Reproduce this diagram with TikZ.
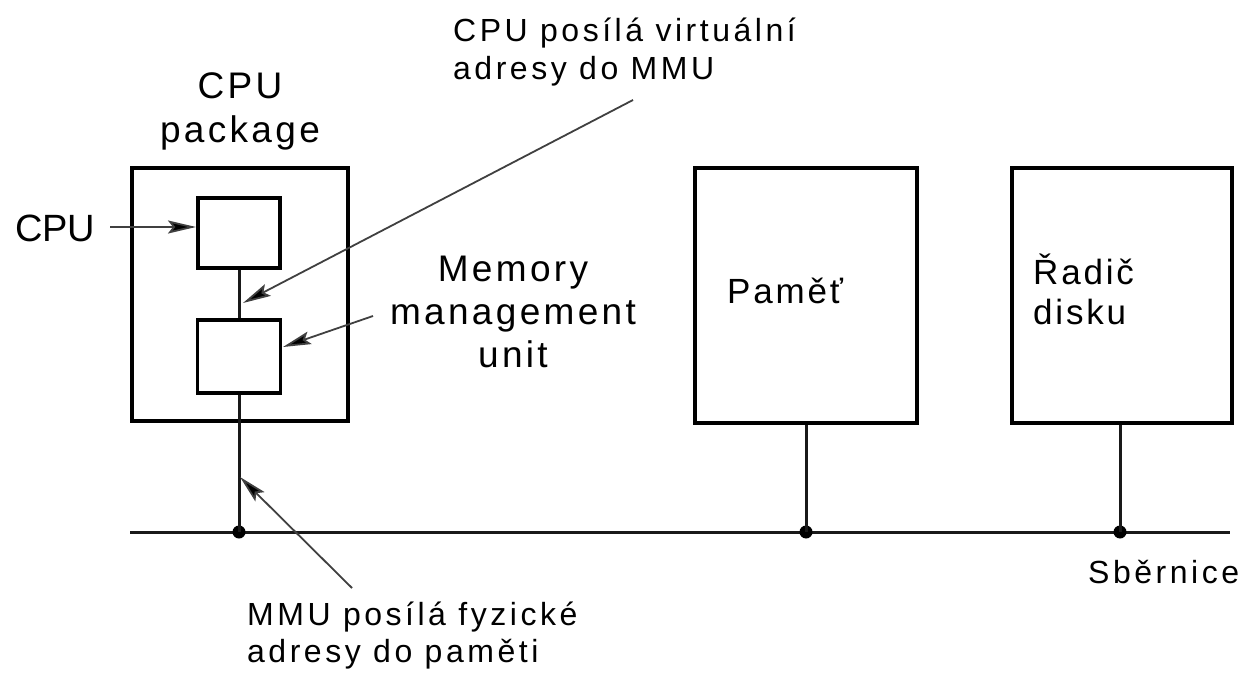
\documentclass[tikz,border=0pt]{standalone}
\usepackage{fontspec}
\setmainfont{Liberation Sans}
\usetikzlibrary{arrows.meta}
\newfontfamily\notefont[LetterSpace=11]{Liberation Sans}
\newfontfamily\labelfont[LetterSpace=9]{Liberation Sans}
\newfontfamily\boxfont[LetterSpace=8]{Liberation Sans}
\begin{document}
\begin{tikzpicture}[x=1pt,y=-1pt,
  block/.style={draw=black, line width=3.6pt, fill=none, inner sep=0pt},
  wire/.style={draw=black!90, line width=3pt},
  pointer/.style={draw=black!75, line width=1.8pt,
    -{Stealth[length=28pt,width=13pt,inset=5pt,fill=black]}},
  junction/.style={circle, fill=black, inner sep=0pt, minimum size=13pt},
  note/.style={font=\notefont\fontsize{32}{38}\selectfont, align=left, inner sep=0pt},
  biglabel/.style={font=\labelfont\fontsize{37}{44}\selectfont, align=center, inner sep=0pt},
  boxlabel/.style={font=\boxfont\fontsize{35}{40}\selectfont, align=left, inner sep=0pt}]
  \useasboundingbox (0,0) rectangle (1249,676);
  \fill[white] (0,0) rectangle (1249,676);

  % processor package with CPU and MMU
  \node[block, minimum width=216pt, minimum height=253pt] (pkg) at (240,294.5) {};
  \node[block, minimum width=82pt, minimum height=70pt] (cpu) at (239,233) {};
  \node[block, minimum width=83pt, minimum height=73pt] (mmu) at (239,356.5) {};

  % memory and disk controller
  \node[block, minimum width=222pt, minimum height=255pt] (mem) at (806,295.5) {};
  \node[block, minimum width=220pt, minimum height=255pt] (ctl) at (1122,295.5) {};

  % bus
  \coordinate (busL) at (130,532);
  \coordinate (busR) at (1230,532);
  \draw[wire] (busL) -- (busR);
  \node[junction] (j1) at (239,532) {};
  \node[junction] (j2) at (806,532) {};
  \node[junction] (j3) at (1120,532) {};

  \draw[wire] (cpu.south) -- (mmu.north);
  \draw[wire] (mmu.south) -- (j1.center);
  \draw[wire] (mem.south) -- (j2.center);
  \draw[wire] (ctl.south -| j3) -- (j3.center);

  % labels (multi-line nodes are anchored at the baseline of their last line)
  \node[biglabel, anchor=base] (pkglbl) at (240,143) {CPU\\package};
  \node[font=\fontsize{38}{44}\selectfont, inner sep=0pt, anchor=base west] (cpulbl) at (15,242) {CPU};
  \node[biglabel, font=\labelfont\fontsize{37}{43}\selectfont, anchor=base] (mmulbl) at (513,367) {Memory\\management\\unit};
  \node[boxlabel, anchor=base west] (memlbl) at (727,303) {Paměť};
  \node[boxlabel, anchor=base west] (ctllbl) at (1033,324) {Řadič\\disku};
  \node[note, anchor=base west] (buslbl) at (1088,583) {Sběrnice};
  \node[note, anchor=base west] (virtlbl) at (453,80) {CPU posílá virtuální\\adresy do MMU};
  \node[note, font=\notefont\fontsize{32}{37}\selectfont, anchor=base west] (physlbl) at (247,662) {MMU posílá fyzické\\adresy do paměti};

  % annotation arrows
  \coordinate (a1s) at (110,227);
  \coordinate (a1e) at (196,227);
  \coordinate (a2s) at (633,100);
  \coordinate (a2e) at (243,303);
  \coordinate (a3s) at (373,316);
  \coordinate (a3e) at (283,347);
  \coordinate (a4s) at (352,588);
  \coordinate (a4e) at (240,477);
  \draw[pointer] (a1s) -- (a1e);
  \draw[pointer] (a2s) -- (a2e);
  \draw[pointer] (a3s) -- (a3e);
  \draw[pointer] (a4s) -- (a4e);
\end{tikzpicture}
\end{document}
